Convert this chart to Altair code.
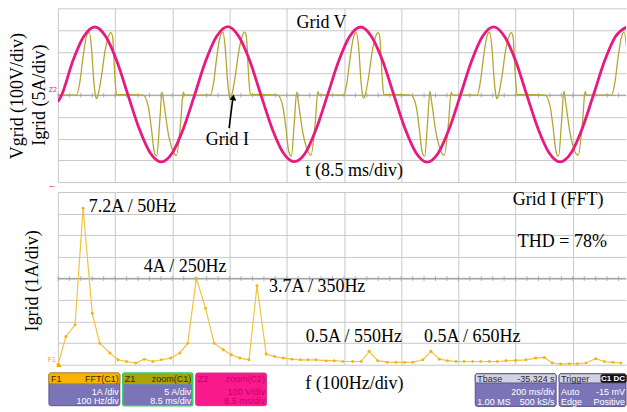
import altair as alt
import pandas as pd

# ---------------- values ----------------
# Grid V (volts) versus time (ms), 100 V/div, 8.5 ms/div
grid_v_t = [0.0, 0.55, 2.20, 3.84, 5.49, 7.13, 8.78, 10.42, 12.07, 13.72, 15.36, 17.01, 18.65,
            20.30, 21.95, 23.59, 25.24, 26.88, 28.53, 30.17, 31.82, 33.47, 35.11, 36.76, 38.40,
            40.05, 41.70, 43.34, 44.99, 46.63, 48.28, 49.92, 51.57, 53.22, 54.86, 56.51, 58.15,
            59.80, 61.45, 63.09, 64.74, 66.38, 68.03, 69.67, 71.32, 72.97, 74.61, 76.26, 77.90,
            79.55, 81.20, 82.84, 84.49]
grid_v = [-30, 0, 156, 270, 314, 269, 155, 0, -154, -266, -307, -265, -153,
          0, 157, 271, 316, 270, 156, 0, -153, -265, -306, -266, -154,
          0, 156, 270, 314, 268, 155, 0, -154, -266, -308, -266, -154,
          0, 156, 271, 315, 269, 156, 0, -153, -265, -307, -265, -153,
          0, 156, 270, 314]

# Grid I (amps) versus time (ms), 5 A/div
grid_i_t = [0.0,
    2.77, 3.26, 3.75, 4.26, 4.64, 5.00, 5.34, 5.59, 5.74, 5.98, 6.48, 6.97, 7.46, 7.86, 8.11, 8.46, 8.71,
    12.65, 13.40, 13.90, 14.24, 14.54, 14.69, 15.13, 15.47, 15.72, 15.90, 16.36, 16.87, 17.35, 17.60, 18.25, 18.62, 18.84,
    22.65, 23.14, 23.63, 24.14, 24.52, 24.88, 25.22, 25.47, 25.62, 25.86, 26.36, 26.85, 27.34, 27.74, 27.99, 28.34, 28.59,
    32.65, 33.40, 33.90, 34.24, 34.54, 34.69, 35.13, 35.47, 35.72, 35.90, 36.36, 36.87, 37.35, 37.60, 38.25, 38.62, 38.84,
    42.47, 42.96, 43.45, 43.96, 44.34, 44.70, 45.04, 45.29, 45.44, 45.68, 46.18, 46.67, 47.16, 47.56, 47.81, 48.16, 48.41,
    52.45, 53.20, 53.70, 54.04, 54.34, 54.49, 54.93, 55.27, 55.52, 55.70, 56.16, 56.67, 57.15, 57.40, 58.05, 58.42, 58.64,
    62.27, 62.76, 63.25, 63.76, 64.14, 64.50, 64.84, 65.09, 65.24, 65.48, 65.98, 66.47, 66.96, 67.36, 67.61, 67.96, 68.21,
    72.35, 73.10, 73.60, 73.94, 74.24, 74.39, 74.83, 75.17, 75.42, 75.60, 76.06, 76.57, 77.05, 77.30, 77.95, 78.32, 78.54,
    82.27, 82.76, 83.25, 83.76, 84.14, 84.50]
grid_i = [0.0,
    0.0, 3.0, 9.0, 13.6, 14.5, 10.6, 3.0, -0.2, -0.8, 0.2, 4.4, 9.9, 13.3, 14.4, 13.6, 4.4, 0.2,
    0.0, -2.4, -7.8, -12.4, -13.9, -14.0, -6.0, 0.7, -1.5, -3.5, -8.5, -11.9, -13.6, -13.9, -6.0, 0.7, 0.0,
    0.0, 3.0, 9.1, 13.7, 14.5, 10.5, 3.0, -0.2, -0.8, 0.2, 4.5, 9.9, 13.4, 14.5, 13.6, 4.3, 0.2,
    0.0, -2.5, -7.9, -12.5, -13.9, -14.0, -6.0, 0.7, -1.5, -3.5, -8.4, -11.8, -13.5, -13.8, -6.0, 0.8, 0.0,
    0.0, 3.1, 9.0, 13.6, 14.4, 10.6, 3.0, -0.2, -0.7, 0.2, 4.4, 9.8, 13.3, 14.4, 13.5, 4.4, 0.2,
    0.0, -2.4, -7.8, -12.4, -13.9, -14.0, -6.0, 0.9, -1.5, -3.5, -8.5, -11.9, -13.6, -13.8, -6.0, 0.7, 0.0,
    0.0, 3.0, 9.0, 13.6, 14.5, 10.6, 3.0, -0.2, -0.8, 0.2, 4.4, 9.9, 13.3, 14.4, 13.6, 4.4, 0.2,
    0.0, -2.4, -7.8, -12.4, -13.9, -14.0, -6.0, 0.9, -1.5, -3.5, -8.5, -11.9, -13.6, -13.8, -6.0, 0.8, 0.0,
    0.0, 3.0, 9.0, 13.6, 14.5, 10.6]

# FFT of Grid I: frequency (Hz) and amplitude (A), 1 A/div, 100 Hz/div
fft_f = [0, 14, 30, 44, 60, 73, 91, 105, 120, 136, 151, 166, 181, 197, 213, 227, 242, 258, 273, 289,
         303, 318, 334, 348, 364, 379, 394, 409, 424, 437, 451, 469, 483, 498, 515, 530, 544, 559, 576, 591,
         606, 620, 638, 652, 667, 681, 696, 710, 725, 739, 754, 768, 783, 800, 818, 835, 850, 864, 879, 894,
         908, 923, 940, 955, 970, 984]
fft_a = [0.0, 1.31, 1.85, 7.25, 2.39, 1.0, 0.54, 0.23, 0.15, 0.08, 0.26, 0.15, 0.23, 0.31, 0.54, 1.0, 4.0, 2.62, 1.0, 0.69,
         0.46, 0.31, 0.23, 3.66, 0.5, 0.38, 0.31, 0.26, 0.23, 0.23, 0.23, 0.19, 0.19, 0.15, 0.15, 0.15, 0.62, 0.19, 0.12, 0.11,
         0.11, 0.12, 0.23, 0.62, 0.26, 0.19, 0.15, 0.15, 0.15, 0.15, 0.15, 0.15, 0.18, 0.2, 0.23, 0.31, 0.34, 0.08, 0.03, 0.05,
         0.05, 0.08, 0.28, 0.15, 0.11, 0.08]

# graticule (divisions)
time_grid = [0, 8.5, 17, 25.5, 34, 42.5, 51, 59.5, 68, 76.5]
volt_grid = [-400, -300, -200, -100, 0, 100, 200, 300, 400]
freq_grid = [0, 100, 200, 300, 400, 500, 600, 700, 800, 900]
amp_grid = [0, 1, 2, 3, 4, 5, 6, 7, 8]
time_sub = [round(k * 1.7, 2) for k in range(50)]
freq_sub = [k * 20 for k in range(50)]

# annotations
top_labels = ["Grid V", "Grid I", "t (8.5 ms/div)"]
top_label_t = [35.45, 21.95, 36.8]
top_label_v = [308, -230, -372]
fft_labels = ["7.2A / 50Hz", "4A / 250Hz", "3.7A / 350Hz", "0.5A / 550Hz", "0.5A / 650Hz",
              "Grid I (FFT)", "THD = 78%"]
fft_label_f = [54, 150, 369, 433, 640, 795, 804]
fft_label_a = [7.07, 4.31, 3.39, 1.05, 1.05, 7.40, 5.47]

# ---------------- styling ----------------
W, H_TOP, H_BOT, H_BAR = 569, 174, 173, 32
SERIF = "Liberation Serif"
SANS = "Liberation Sans"
GRID = "#c8c8c8"
CENTER = "#9a9a9a"
PINK = "#e8197f"
OLIVE = "#b4a630"
GOLD = "#f2c33c"
LAV = "#7b75b7"
one = pd.DataFrame({"k": [0]})

tscale = alt.Scale(domain=[0, 84.4], nice=False, zero=False)
vscale = alt.Scale(domain=[-400, 400], nice=False, zero=False)
iscale = alt.Scale(domain=[-20, 20], nice=False, zero=False)
fscale = alt.Scale(domain=[0, 993], nice=False, zero=False)
ascale = alt.Scale(domain=[0, 8], nice=False, zero=False)


def grid_axis(vals):
    return alt.Axis(values=vals, grid=True, gridColor=GRID, gridWidth=1, gridOpacity=1,
                    labels=False, ticks=False, domain=False, title=None)


def txt(s, x, y, align="left", size=9, color="white", font=SANS, weight="normal", angle=0):
    return alt.Chart(one).mark_text(text=s, align=align, baseline="alphabetic", font=font,
                                    fontSize=size, color=color, fontWeight=weight, angle=angle
                                    ).encode(x=alt.value(x), y=alt.value(y))


def box(x0, x1, y0, y1, fill, stroke="#5a548e", sw=1.0, r=2):
    return alt.Chart(one).mark_rect(fill=fill, stroke=stroke, strokeWidth=sw, cornerRadius=r
                                    ).encode(x=alt.value(x0), x2=alt.value(x1),
                                             y=alt.value(y0), y2=alt.value(y1))


X_T = alt.X("t:Q", scale=tscale, axis=grid_axis(time_grid))

vdf = pd.DataFrame({"t": grid_v_t, "v": grid_v})
idf = pd.DataFrame({"t": grid_i_t, "i": grid_i})
tnotes = pd.DataFrame({"t": top_label_t, "v": top_label_v, "label": top_labels})
arrow = pd.DataFrame({"t": [25.44], "v": [-152], "t2": [26.0], "v2": [-12]})
head = pd.DataFrame({"t": [26.05], "v": [-10]})

center_top = alt.Chart(pd.DataFrame({"v": [0]})).mark_rule(color=CENTER, strokeWidth=1).encode(
    y=alt.Y("v:Q", scale=vscale, axis=None))
ticks_top = alt.Chart(pd.DataFrame({"t": time_sub})).mark_tick(
    orient="vertical", size=5, thickness=1, color=CENTER).encode(
    x=X_T, y=alt.Y(datum=0, scale=vscale, axis=None))
cur = alt.Chart(idf).mark_line(color=OLIVE, strokeWidth=1.3, interpolate="monotone", clip=True).encode(
    x=X_T, y=alt.Y("i:Q", scale=iscale, axis=None), order="t:Q")
vol = alt.Chart(vdf).mark_line(color=PINK, strokeWidth=2.8, interpolate="monotone", clip=True).encode(
    x=X_T, y=alt.Y("v:Q", scale=vscale, axis=grid_axis(volt_grid)), order="t:Q")
tlab = alt.Chart(tnotes).mark_text(align="left", baseline="alphabetic", font=SERIF, fontSize=18,
                                   color="black").encode(
    x=X_T, y=alt.Y("v:Q", scale=vscale, axis=None), text="label:N")
arr = alt.Chart(arrow).mark_rule(color="black", strokeWidth=1.6).encode(
    x=X_T, x2="t2:Q", y=alt.Y("v:Q", scale=vscale, axis=None), y2="v2:Q")
arrh = alt.Chart(head).mark_point(shape="triangle-up", filled=True, size=45, color="black",
                                  opacity=1, angle=7).encode(
    x=X_T, y=alt.Y("v:Q", scale=vscale, axis=None))

top = alt.layer(
    center_top, ticks_top, cur, vol, tlab, arr, arrh,
    txt("Vgrid (100V/div)", -35, 88, align="center", size=18, color="black", font=SERIF, angle=270),
    txt("Igrid (5A/div)", -13, 87, align="center", size=18, color="black", font=SERIF, angle=270),
    txt("Z2", -1, 84, align="right", size=7, color=PINK),
    txt("\u2190", -1, 180, align="right", size=9, color=PINK),
).resolve_scale(y="independent").properties(width=W, height=H_TOP)

# ---------------- FFT panel ----------------
X_F = alt.X("f:Q", scale=fscale, axis=grid_axis(freq_grid))
Y_A = alt.Y("a:Q", scale=ascale, axis=grid_axis(amp_grid))
fdf = pd.DataFrame({"f": fft_f, "a": fft_a})
fnotes = pd.DataFrame({"f": fft_label_f, "a": fft_label_a, "label": fft_labels})

center_bot = alt.Chart(pd.DataFrame({"a": [4]})).mark_rule(color=CENTER, strokeWidth=1).encode(y=Y_A)
ticks_bot = alt.Chart(pd.DataFrame({"f": freq_sub})).mark_tick(
    orient="vertical", size=5, thickness=1, color=CENTER).encode(
    x=X_F, y=alt.Y(datum=4, scale=ascale, axis=grid_axis(amp_grid)))
fline = alt.Chart(fdf).mark_line(color=GOLD, strokeWidth=1.2).encode(x=X_F, y=Y_A, order="f:Q")
fpts = alt.Chart(fdf).mark_circle(color="#f0b414", size=9, opacity=1).encode(x=X_F, y=Y_A)
flab = alt.Chart(fnotes).mark_text(align="left", baseline="alphabetic", font=SERIF, fontSize=18,
                                   color="black").encode(x=X_F, y=Y_A, text="label:N")

bottom = alt.layer(
    center_bot, ticks_bot, fline, fpts, flab,
    txt("Igrid (1A/div)", -20, 89, align="center", size=18, color="black", font=SERIF, angle=270),
    txt("F1", -2, 170, align="right", size=7, color="#f0a800"),
    alt.Chart(one).mark_point(shape="triangle-up", filled=True, size=28, color="#f0a800", opacity=1
                              ).encode(x=alt.value(1), y=alt.value(173)),
).properties(width=W, height=H_BOT)

# ---------------- oscilloscope info bar ----------------
DARK = "#2a2a2a"
bar = alt.layer(
    # F1
    box(-9, 62, -1.7, 31, LAV), box(-9, 62, -1.7, 9, "#f7b500", stroke="#c98f00"),
    txt("F1", -7, 7.5, color="#3a2600"), txt("FFT(C1)", 61, 7.5, align="right", color="#3a2600"),
    txt("1A /div", 61, 20, align="right"), txt("100 Hz/div", 61, 29, align="right"),
    # Z1
    box(65, 135, -1.7, 31, LAV, stroke="#35cf6c", sw=1.6), box(65.5, 134.5, -1.2, 9, "#aea200", stroke="#35cf6c", sw=1.2),
    txt("Z1", 67, 7.5, color=DARK), txt("zoom(C1)", 133.5, 7.5, align="right", color=DARK),
    txt("5 A/div", 133.5, 20, align="right"), txt("8.5 ms/div", 133.5, 29, align="right"),
    # Z2
    box(138, 209, -1.7, 31, "#fb1a8e", stroke="#c8387a"),
    txt("Z2", 140, 7.5, color="#c4006a"), txt("zoom(C2)", 207.5, 7.5, align="right", color="#c4006a"),
    txt("100 V/div", 207.5, 20, align="right", color="#c4006a"),
    txt("8.5 ms/div", 207.5, 29, align="right", color="#c4006a"),
    # f label
    txt("f (100Hz/div)", 297, 14, align="center", size=18, color="black", font=SERIF),
    # Tbase
    box(418, 499, -1, 31.7, LAV), box(418, 499, -1, 8.3, "#d2d2e4"),
    txt("Tbase", 420, 7, color=DARK), txt("-35.324 s", 497.5, 7, align="right", color=DARK),
    txt("200 ms/div", 497.5, 20, align="right"),
    txt("1.00 MS", 420, 30), txt("500 kS/s", 497.5, 30, align="right"),
    # Trigger
    box(502, 569, -1, 31.7, LAV), box(502, 569, -1, 8.3, "#d2d2e4"),
    box(544, 569, 0, 7.5, "#111111", stroke="#111111", r=1),
    txt("Trigger", 504, 7, color=DARK), txt("C1 DC", 568, 6.5, align="right", size=8, weight="bold"),
    txt("Auto", 504, 20), txt("-15 mV", 568, 20, align="right"),
    txt("Edge", 504, 30), txt("Positive", 568, 30, align="right"),
).properties(width=W, height=H_BAR)

chart = alt.vconcat(top, bottom, bar, spacing=10, bounds="flush").properties(
    padding={"left": 9, "top": 8, "right": 0, "bottom": 5},
    autosize=alt.AutoSizeParams(type="pad"),
    background="white",
).configure_view(stroke=None)

chart.save("out.html", embed_options={"renderer": "svg", "actions": False})
